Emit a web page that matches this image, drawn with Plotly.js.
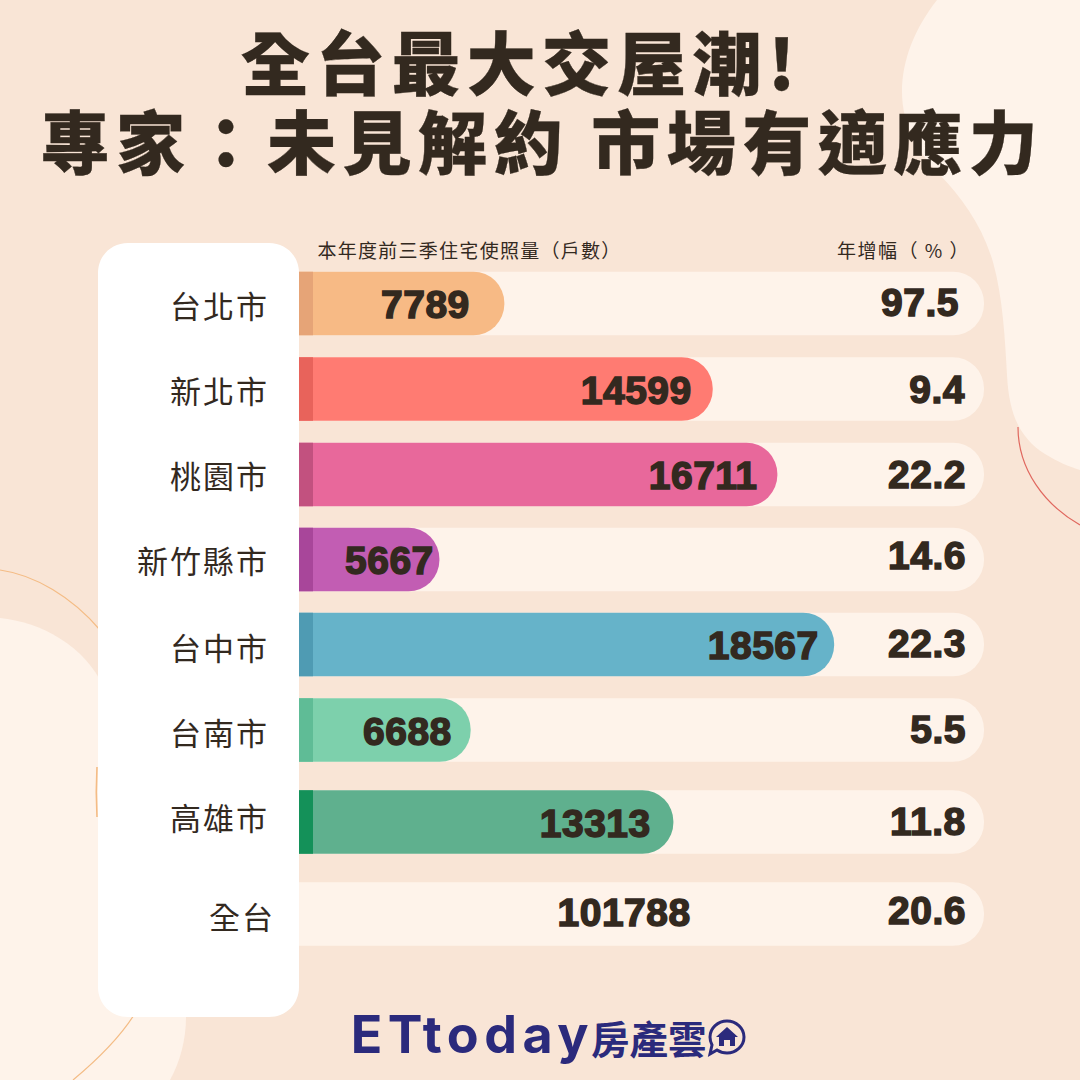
<!DOCTYPE html>
<html><head><meta charset="utf-8">
<script src="https://cdn.plot.ly/plotly-3.0.1.min.js"></script>
<style>html,body{margin:0;padding:0;background:#F9E5D6}#c{width:1080px;height:1080px}</style>
</head><body><div id="c"></div>
<script>
// ---- data ----
const cities = ['台北市','新北市','桃園市','新竹縣市','台中市','台南市','高雄市'];
const permits = [7789,14599,16711,5667,18567,6688,13313];
const growth = ['97.5','9.4','22.2','14.6','22.3','5.5','11.8'];
const totalLabel = '全台';
const totalPermits = '101788';
const totalGrowth = '20.6';
const barColors = ['#F7BA85','#FF7B72','#E8689B','#C25DB3','#66B3C9','#7DD0AC','#5FB08E'];
const stripColors = ['#E6A477','#E8635B','#C2517F','#A8469A','#4F9BB3','#5FBC96','#149159'];

// ---- layout constants ----
const W = 1080, BG = '#F9E5D6', LIGHT = '#FEF3EA', INK = '#33291F', NAVY = '#2B2A7C';
const CJK = '"Noto Sans CJK TC","Noto Sans CJK SC",sans-serif';
const NUM = '"Liberation Sans",Arial,sans-serif';
const rowY = [303.5,389,474.5,559.5,644.5,730,822,914];
const zeroPx = 266, pxPerUnit = 0.0306;
const trackEnd = (984 - zeroPx) / pxPerUnit;
const xRange = [-zeroPx / pxPerUnit, (W - zeroPx) / pxPerUnit];

const px = (x, y) => (x / W).toFixed(5) + ',' + (1 - y / W).toFixed(5);
const path = (segs) => segs.map(s => {
  const nums = s.slice(1), pts = [];
  for (let i = 0; i < nums.length; i += 2) pts.push(px(nums[i], nums[i + 1]));
  return s[0] + ' ' + pts.join(' ');
}).join(' ');
const pShape = (segs, fill, line, layer) => ({
  type: 'path', xref: 'paper', yref: 'paper', layer: layer || 'below',
  path: path(segs), fillcolor: fill || 'rgba(0,0,0,0)',
  line: line ? {color: line[0], width: line[1]} : {width: 0}
});

const shapes = [
  pShape([['M',937,0],['C',915,28,902,60,902,92],['C',902,125,918,152,940,175],['C',962,198,982,225,993,262],
    ['C',1003,298,1005,340,1007,375],['C',1009,415,1020,438,1045,454],['C',1058,462,1070,467,1080,470],['L',1080,0],['Z']], LIGHT),
  pShape([['M',0,618],['C',40,622,85,645,104,688],['L',186,1017],['C',186,1040,180,1062,170,1080],['L',0,1080],['Z']], LIGHT),
  pShape([['M',1018,427],['C',1018,470,1045,505,1080,525]], null, ['#E0685F',1.2]),
  pShape([['M',0,570],['C',35,575,72,597,100,630]], null, ['#F4BC85',1.2]),
  pShape([['M',97,767],['C',96,785,96,800,97,817]], null, ['#F4BC85',1.6]),
  pShape([['M',134,1015],['C',118,1040,97,1060,73,1080]], null, ['#F4BC85',1.2]),
  pShape([['M',128,243],['L',269,243],['C',286,243,299,256,299,273],['L',299,987],['C',299,1004,286,1017,269,1017],
    ['L',128,1017],['C',111,1017,98,1004,98,987],['L',98,273],['C',98,256,111,243,128,243],['Z']], '#FFFFFF', null, 'above'),
  pShape([['M',727,1021],['C',736,1021,744,1028,744,1037],['C',744,1046,736,1053,727,1053],['C',723,1053,720,1052,717,1050],
    ['L',710,1054],['L',712,1045],['C',711,1043,710,1040,710,1037],['C',710,1028,718,1021,727,1021],['Z']], 'rgba(0,0,0,0)', [NAVY,3], 'above'),
  pShape([['M',727,1027],['L',738,1037],['L',735,1037],['L',735,1046],['L',730,1046],['L',730,1040],['L',724,1040],['L',724,1046],
    ['L',719,1046],['L',719,1037],['L',716,1037],['Z']], NAVY, null, 'above')
];
permits.forEach((_, i) => shapes.push({
  type: 'rect', layer: 'above', xref: 'paper', yref: 'y',
  x0: 299 / W, x1: 313 / W, y0: rowY[i] - 31.75, y1: rowY[i] + 31.75,
  fillcolor: stripColors[i], line: {width: 0}
}));

const anns = [], spacing = [], strokes = [];
function ann(o, sp, st) { anns.push(Object.assign({showarrow: false, xref: 'paper', yref: 'paper', yanchor: 'middle'}, o)); spacing.push(sp || 0); strokes.push(st || 0); }
const txt = (text, cx, cy, size, family, weight, color, sp, st) => ann({
  text, x: cx / W, y: 1 - cy / W, xanchor: 'center',
  font: {family, size, color, weight}
}, sp, st);

txt('全台最大交屋潮!', 521, 60, 69, CJK, 900, INK, 6.3, 0.3);
txt('專家：未見解約 市場有適應力', 542, 139, 69, CJK, 900, INK, 6.5, 0.3);
txt('本年度前三季住宅使照量（戶數）', 469.5, 249.5, 19, CJK, 400, INK, 1.27);
txt('年增幅（ % ）', 903.5, 249.5, 19, CJK, 400, INK, 1.5);

const labelDy = [1,0,0,0,2,1,-6];
cities.forEach((c, i) => txt(c, 268 - c.length * 16.3, rowY[i] + labelDy[i], 31, CJK, 400, INK, 2));
txt(totalLabel, 242, 915, 31, CJK, 400, INK, 2);

const valFont = {family: NUM, size: 39, color: INK, weight: 700};
const valShift = [-33,-21,-19,-4,-15,-18,-22];
permits.forEach((v, i) => ann({
  text: String(v), xref: 'x', x: v, yref: 'y', y: rowY[i] + 1, xanchor: 'right', xshift: valShift[i],
  font: valFont
}, 0.5, 1.5));
txt(totalPermits, 624, 912.5, 39, NUM, 700, INK, 0.5, 1.5);

const growthDy = [-1,0,0,-4,-1,-1,-1];
growth.forEach((g, i) => ann({
  text: g, x: (i === 0 ? 960 : 967) / W, y: 1 - (rowY[i] + growthDy[i]) / W, xanchor: 'right',
  font: valFont
}, 0.5, 1.5));
ann({text: totalGrowth, x: 967 / W, y: 1 - 910 / W, xanchor: 'right', font: valFont}, 0.5, 1.5);

txt('ETtoday', 472.5, 1034, 52, 'Inter,Lato,sans-serif', 700, NAVY, 5.5);
txt('房產雲', 649, 1037, 38.5, CJK, 700, NAVY, 0);

const data = [
  {type: 'bar', orientation: 'h', y: rowY, x: rowY.map(() => trackEnd), width: 63.5,
   marker: {color: LIGHT, cornerradius: 31}, hoverinfo: 'skip', showlegend: false},
  {type: 'bar', orientation: 'h', xaxis: 'x2', yaxis: 'y2', y: rowY.slice(0, permits.length), x: permits, width: 63.5,
   marker: {color: barColors, cornerradius: 31}, hoverinfo: 'skip', showlegend: false}
];
const layout = {
  width: W, height: W, margin: {l: 0, r: 0, t: 0, b: 0, pad: 0},
  paper_bgcolor: BG, plot_bgcolor: 'rgba(0,0,0,0)', barmode: 'overlay', showlegend: false,
  xaxis: {range: xRange, visible: false, fixedrange: true},
  yaxis: {range: [W, 0], visible: false, fixedrange: true},
  xaxis2: {range: xRange, visible: false, fixedrange: true, overlaying: 'x', anchor: 'y2'},
  yaxis2: {range: [W, 0], visible: false, fixedrange: true, overlaying: 'y', anchor: 'x2'},
  shapes, annotations: anns
};
Plotly.newPlot('c', data, layout, {staticPlot: true, displayModeBar: false}).then(() => {
  document.querySelectorAll('#c .annotation').forEach(g => {
    const i = +g.getAttribute('data-index'), t = g.querySelector('text');
    if (spacing[i]) t.style.letterSpacing = spacing[i] + 'px';
    if (strokes[i]) { t.style.stroke = INK; t.style.strokeWidth = strokes[i] + 'px'; }
  });
});
</script></body></html>
